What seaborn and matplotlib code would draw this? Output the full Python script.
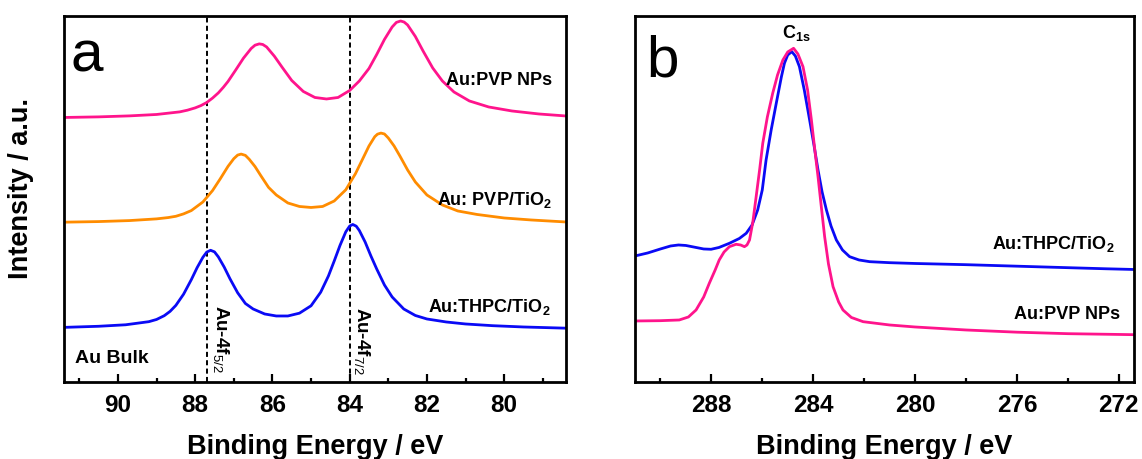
import matplotlib
matplotlib.use('Agg')
import matplotlib.pyplot as plt
from matplotlib.ticker import MultipleLocator
import seaborn as sns

# ---------------- Panel a: Au 4f spectra (intensity in arbitrary units) ----------------
xa_pink = [91.4, 90.5, 89.7, 89.0, 88.4, 88.2, 88.0, 87.85, 87.7, 87.55, 87.4, 87.27, 87.15,
           86.95, 86.75, 86.55, 86.45, 86.34, 86.25, 86.15, 85.95, 85.75, 85.5, 85.2, 84.9,
           84.6, 84.3, 84.0, 83.75, 83.5, 83.3, 83.1, 82.9, 82.79, 82.68, 82.59, 82.5, 82.3,
           82.1, 81.85, 81.6, 81.3, 80.9, 80.4, 79.8, 79.1, 78.4]
ya_pink = [264.5, 265.1, 266.1, 267.5, 270.1, 271.8, 274.1, 276.4, 279.5, 283.9, 289.1, 294.7,
           300.5, 312.0, 323.8, 333.5, 336.8, 338.1, 337.5, 335.0, 325.8, 314.8, 301.5, 290.5,
           284.5, 283.0, 284.5, 291.5, 301.0, 313.5, 327.5, 342.5, 355.0, 359.6, 361.0, 359.9,
           357.0, 345.5, 331.0, 314.0, 301.0, 290.0, 281.0, 275.0, 271.0, 268.0, 266.0]

xa_orange = [91.4, 90.5, 89.7, 89.0, 88.7, 88.5, 88.3, 88.1, 87.8, 87.55, 87.35, 87.15, 87.0,
             86.9, 86.81, 86.7, 86.6, 86.45, 86.3, 86.1, 85.9, 85.6, 85.3, 85.0, 84.7, 84.4,
             84.1, 83.85, 83.65, 83.5, 83.35, 83.28, 83.19, 83.1, 83.0, 82.85, 82.7, 82.5,
             82.3, 82.0, 81.6, 81.2, 80.7, 80.0, 79.3, 78.4]
ya_orange = [159.8, 160.4, 161.4, 163.1, 164.4, 165.7, 168.1, 171.4, 180.0, 191.4, 203.2, 215.6,
             223.3, 226.9, 227.9, 226.6, 222.7, 215.4, 206.3, 194.6, 187.0, 179.0, 175.5, 174.5,
             175.5, 181.0, 192.2, 208.3, 224.1, 236.0, 245.3, 247.8, 248.9, 248.0, 244.0, 236.0,
             226.0, 212.0, 200.0, 187.0, 177.0, 171.0, 167.5, 164.0, 162.0, 160.0]

xa_blue = [91.4, 90.5, 89.8, 89.2, 89.0, 88.8, 88.65, 88.5, 88.3, 88.1, 87.95, 87.8, 87.7, 87.6,
           87.5, 87.4, 87.25, 87.1, 86.9, 86.7, 86.5, 86.2, 85.9, 85.6, 85.3, 85.0, 84.75,
           84.55, 84.4, 84.25, 84.1, 84.0, 83.92, 83.83, 83.75, 83.6, 83.45, 83.3, 83.1, 82.9,
           82.6, 82.3, 82.0, 81.5, 81.0, 80.3, 79.5, 78.4]
ya_blue = [54.6, 55.7, 57.2, 60.3, 62.5, 66.3, 70.6, 76.6, 87.8, 102.3, 114.3, 124.7, 129.9,
           131.7, 130.1, 125.1, 115.0, 103.3, 89.2, 78.5, 73.0, 68.0, 66.0, 66.0, 68.8, 76.2,
           89.8, 106.0, 121.0, 136.6, 150.2, 155.9, 157.5, 155.8, 151.5, 140.0, 126.0, 113.0,
           97.0, 85.0, 73.0, 66.5, 63.0, 60.0, 58.0, 56.3, 55.0, 53.8]

ref_lines_a = [87.7, 84.0]
labels_a = ["Au:PVP NPs", r"Au: PVP/TiO$_\mathbf{2}$", r"Au:THPC/TiO$_\mathbf{2}$"]

# ---------------- Panel b: C 1s spectra ----------------
xb_blue = [291.0, 290.5, 290.0, 289.6, 289.29, 289.0, 288.6, 288.3, 288.01, 287.7, 287.29, 286.9,
           286.63, 286.4, 286.18, 286.0, 285.85, 285.65, 285.45, 285.25, 285.13, 285.0, 284.84,
           284.7, 284.54, 284.35, 284.14, 283.97, 283.81, 283.65, 283.48, 283.3, 283.09, 282.85,
           282.57, 282.2, 281.78, 281.0, 280.0, 278.0, 276.0, 274.0, 272.5, 271.4]
yb_blue = [126.0, 129.0, 133.0, 136.0, 137.0, 136.5, 134.5, 133.0, 132.7, 134.5, 138.7, 143.5,
           148.7, 157.0, 172.0, 192.0, 222.0, 252.0, 278.7, 305.0, 318.7, 327.0, 330.3, 326.0,
           315.3, 292.0, 262.0, 237.0, 212.0, 190.0, 172.0, 156.0, 142.0, 132.0, 125.3, 122.0,
           120.3, 119.3, 118.5, 117.3, 115.8, 114.3, 113.2, 112.5]

xb_pink = [291.0, 290.0, 289.26, 288.9, 288.6, 288.3, 288.08, 287.85, 287.69, 287.5, 287.29,
           287.03, 286.85, 286.7, 286.6, 286.5, 286.37, 286.24, 286.1, 285.98, 285.8, 285.59,
           285.4, 285.19, 285.0, 284.77, 284.6, 284.4, 284.22, 284.07, 283.94, 283.81, 283.68,
           283.55, 283.4, 283.22, 283.0, 282.83, 282.5, 282.04, 281.0, 280.0, 278.0, 276.0,
           274.0, 271.4]
yb_pink = [61.0, 61.3, 62.0, 65.0, 72.0, 85.0, 98.7, 112.0, 122.0, 130.0, 135.3, 137.7, 137.0,
           135.3, 137.0, 142.0, 160.0, 185.3, 213.0, 238.7, 265.0, 288.7, 307.0, 322.0, 330.0,
           333.7, 328.0, 315.3, 292.0, 262.0, 233.0, 205.3, 175.0, 145.3, 118.0, 95.3, 80.0,
           72.0, 64.5, 60.3, 57.0, 55.0, 52.0, 49.8, 48.3, 47.3]

labels_b = [r"Au:THPC/TiO$_\mathbf{2}$", "Au:PVP NPs"]

PINK = '#FF148C'
ORANGE = '#FF8C00'
BLUE = '#0A0AF5'

sns.set_style('ticks')
plt.rcParams['font.family'] = ['Liberation Sans', 'DejaVu Sans']
plt.rcParams['mathtext.fontset'] = 'custom'
plt.rcParams['mathtext.rm'] = 'Liberation Sans'
plt.rcParams['mathtext.bf'] = 'Liberation Sans:bold'
plt.rcParams['mathtext.it'] = 'Liberation Sans:italic'
for key in ('text.color', 'axes.labelcolor', 'xtick.color', 'ytick.color', 'axes.edgecolor'):
    plt.rcParams[key] = 'black'

fig = plt.figure(figsize=(11.42, 4.59), dpi=100)
ax_a = fig.add_axes([0.0559, 0.1678, 0.4397, 0.7974])
ax_b = fig.add_axes([0.5560, 0.1678, 0.4370, 0.7974])

LW = 2.0
sns.lineplot(x=xa_pink, y=ya_pink, color=PINK, lw=LW, ax=ax_a, estimator=None, sort=False)
sns.lineplot(x=xa_orange, y=ya_orange, color=ORANGE, lw=LW, ax=ax_a, estimator=None, sort=False)
sns.lineplot(x=xa_blue, y=ya_blue, color=BLUE, lw=LW, ax=ax_a, estimator=None, sort=False)
for xv in ref_lines_a:
    ax_a.axvline(xv, color='black', lw=1.4, ls=(0, (2.6, 1.7)), zorder=1)

sns.lineplot(x=xb_blue, y=yb_blue, color=BLUE, lw=LW, ax=ax_b, estimator=None, sort=False)
sns.lineplot(x=xb_pink, y=yb_pink, color=PINK, lw=LW, ax=ax_b, estimator=None, sort=False)

ax_a.set_xlim(91.4, 78.4)
ax_b.set_xlim(291.0, 271.4)
ax_a.xaxis.set_major_locator(MultipleLocator(2))
ax_a.xaxis.set_minor_locator(MultipleLocator(1))
ax_b.xaxis.set_major_locator(MultipleLocator(4))
ax_b.xaxis.set_minor_locator(MultipleLocator(2))

for ax in (ax_a, ax_b):
    ax.set_ylim(0, 366)
    ax.set_yticks([])
    for sp in ax.spines.values():
        sp.set_visible(True)
        sp.set_linewidth(2.0)
        sp.set_color('black')
    ax.tick_params(axis='x', which='major', direction='in', length=5.8, width=1.6,
                   pad=9, labelsize=17.5, top=False, bottom=True, colors='black')
    ax.tick_params(axis='x', which='minor', direction='in', length=3, width=1.6,
                   top=False, bottom=True, colors='black')
    ax.tick_params(axis='y', left=False, right=False, labelleft=False)
    for lab in ax.get_xticklabels():
        lab.set_fontweight('bold')
    ax.set_xlabel('Binding Energy / eV', fontsize=19.5, fontweight='bold', labelpad=12,
                  color='black')

ax_a.set_ylabel('Intensity / a.u.', fontsize=19.5, fontweight='bold', color='black')
ax_a.yaxis.set_label_coords(-0.059, 0.529)

# panel letters
ax_a.text(91.24, 310, 'a', fontsize=42, ha='left', va='baseline', color='black')
ax_b.text(290.55, 305, 'b', fontsize=42, ha='left', va='baseline', color='black')

# panel a labels
ax_a.text(78.76, 297, labels_a[0], fontsize=13, fontweight='bold', ha='right', va='baseline')
ax_a.text(78.76, 177, labels_a[1], fontsize=13, fontweight='bold', ha='right', va='baseline')
ax_a.text(78.8, 70, labels_a[2], fontsize=13, fontweight='bold', ha='right', va='baseline')
ax_a.text(91.11, 19, 'Au Bulk', fontsize=14, fontweight='bold', ha='left', va='baseline')
ax_a.text(87.59, 77, r'Au-4f$_{5/2}$', fontsize=13.5, fontweight='bold', rotation=270,
          ha='left', va='top')
ax_a.text(83.94, 75, r'Au-4f$_{7/2}$', fontsize=13.5, fontweight='bold', rotation=270,
          ha='left', va='top')

# panel b labels
ax_b.text(284.65, 344, r'C$_\mathbf{1s}$', fontsize=13, fontweight='bold', ha='center', va='baseline')
ax_b.text(272.16, 133, labels_b[0], fontsize=13, fontweight='bold', ha='right', va='baseline')
ax_b.text(271.96, 62.5, labels_b[1], fontsize=13, fontweight='bold', ha='right', va='baseline')

fig.savefig('out.png', dpi=100)
